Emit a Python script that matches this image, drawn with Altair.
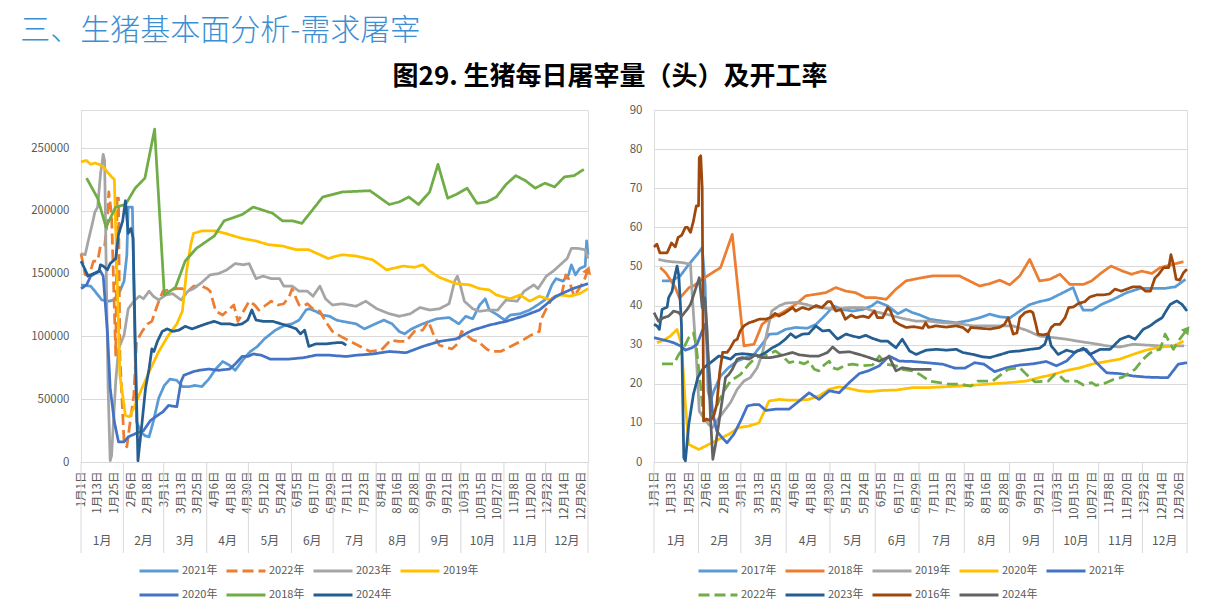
import altair as alt
import pandas as pd

FONT = "Noto Sans CJK SC"
GRAY_TXT = "#595959"
GRID = "#D9D9D9"

# ---------------- axis text ----------------
tick_labels = ["1月1日", "1月13日", "1月25日", "2月6日", "2月18日", "3月1日", "3月13日", "3月25日",
               "4月6日", "4月18日", "4月30日", "5月12日", "5月24日", "6月5日", "6月17日", "6月29日",
               "7月11日", "7月23日", "8月4日", "8月16日", "8月28日", "9月9日", "9月21日", "10月3日",
               "10月15日", "10月27日", "11月8日", "11月20日", "12月2日", "12月14日", "12月26日"]
tick_days = [12 * i for i in range(len(tick_labels))]
month_names = ["1月", "2月", "3月", "4月", "5月", "6月", "7月", "8月", "9月", "10月", "11月", "12月"]
month_bounds = [0, 30.5, 59.5, 90.5, 120.5, 151.5, 181.5, 212.5, 243.5, 273.5, 304.5, 334.5, 365]

# ---------------- left panel: daily slaughter (head), (day-of-year, value) ----------------
L2021 = [(0,141000),(7,140000),(10,136000),(15,129000),(20,128000),(24,129000),(26,133000),(28,136000),(31,144000),
         (33,165000),(34,203000),(37,203000),(39,85000),(40,32000),(43,24000),(46,21000),(49,20000),(52,32000),
         (56,51000),(60,61000),(64,66000),(69,65000),(73,60000),(78,60000),(82,61000),(87,60000),(92,66000),
         (97,74000),(102,80000),(107,77000),(111,73000),(117,82000),(122,88000),(127,92000),(132,98000),
         (140,105000),(147,109000),(152,110000),(157,113000),(162,121000),(164,122000),(169,120000),(174,117000),
         (179,116000),(184,113000),(188,112000),(198,110000),(204,106000),(210,109000),(218,113000),(224,110000),
         (229,104000),(233,102000),(238,106000),(246,110000),(256,114000),(265,115000),(272,110000),(277,116000),
         (282,114000),(287,125000),(291,130000),(294,121000),(300,117000),(305,113000),(309,117000),(316,118000),
         (323,121000),(330,126000),(335,130000),(339,141000),(342,146000),(347,144000),(351,149000),(353,157000),
         (356,149000),(359,154000),(363,156000),(364,176000),(365,165000)]
L2022 = [(0,166000),(3,149000),(6,149000),(9,160000),(12,160000),(14,172000),(17,172000),(19,192000),(20,215000),
         (22,197000),(25,85000),(26,210000),(27,210000),(28,85000),(31,16000),(33,12000),(36,37000),(38,53000),
         (40,96000),(44,104000),(48,110000),(51,112000),(55,125000),(59,136000),(63,137000),(69,138000),
         (73,138000),(77,136000),(81,140000),(87,140000),(91,138000),(93,136000),(97,120000),(102,117000),
         (107,122000),(110,125000),(113,112000),(117,120000),(121,128000),(125,125000),(128,121000),(132,124000),
         (137,128000),(142,125000),(146,126000),(150,132000),(152,138000),(155,130000),(157,125000),(160,124000),
         (163,126000),(167,122000),(172,120000),(176,112000),(181,104000),(184,102000),(187,100000),(201,92000),
         (208,88000),(216,89000),(223,97000),(229,96000),(234,96000),(240,104000),(246,105000),(250,112000),
         (254,101000),(258,93000),(267,90000),(271,94000),(274,104000),(282,97000),(286,96000),(292,90000),
         (295,88000),(302,88000),(306,90000),(311,93000),(318,97000),(324,101000),(330,104000),(331,113000),
         (335,122000),(339,130000),(343,133000),(346,133000),(349,149000),(351,146000),(355,132000),(358,137000),
         (362,144000),(365,153000)]
L2023 = [(0,166000),(3,165000),(5,175000),(8,189000),(10,199000),(12,203000),(14,229000),(16,245000),(17,240000),
         (18,165000),(19.5,59000),(21,1000),(22,5000),(25,64000),(27,90000),(31,101000),(34,122000),(38,128000),
         (42,132000),(45,130000),(49,136000),(52,132000),(56,129000),(61,133000),(66,134000),(72,129000),
         (77,136000),(81,138000),(87,143000),(93,149000),(99,150000),(105,153000),(111,158000),(117,157000),
         (121,158000),(126,146000),(131,148000),(137,146000),(143,146000),(146,140000),(152,140000),(157,136000),
         (163,136000),(167,132000),(172,140000),(176,130000),(181,125000),(188,126000),(198,124000),(205,128000),
         (213,122000),(222,118000),(229,116000),(237,118000),(244,123000),(251,121000),(258,122000),(265,126000),
         (269,144000),(271,148000),(273,141000),(276,128000),(282,122000),(287,120000),(294,121000),(300,121000),
         (306,129000),(314,128000),(319,136000),(326,141000),(329,138000),(335,148000),(340,152000),(345,157000),
         (350,162000),(353,170000),(358,170000),(363,169000),(365,162000)]
L2019 = [(0,239000),(4,240000),(7,237000),(10,238000),(13,237000),(16,235000),(19,231000),(22,227000),(24,225000),
         (26,146000),(28,69000),(32,37000),(35,36000),(38,43000),(44,59000),(50,74000),(56,88000),(63,101000),
         (69,110000),(73,120000),(76,152000),(79,173000),(81,182000),(87,184000),(97,184000),(104,182000),
         (116,178000),(126,176000),(135,173000),(145,172000),(155,169000),(164,169000),(172,165000),(178,162000),
         (184,164000),(188,165000),(198,164000),(210,161000),(220,153000),(232,156000),(240,155000),(246,157000),
         (251,152000),(258,147000),(270,142000),(280,141000),(287,138000),(294,137000),(299,133000),(309,130000),
         (316,133000),(323,128000),(330,132000),(338,129000),(345,133000),(352,132000),(359,134000),(365,138000)]
L2020 = [(0,138000),(4,141000),(7,148000),(10,150000),(14,152000),(16,148000),(19,104000),(21,59000),(24,32000),
         (27,16000),(31,16000),(34,20000),(40,23000),(45,25000),(50,33000),(55,37000),(59,40000),(63,45000),
         (69,44000),(72,64000),(74,69000),(81,72000),(85,73000),(92,74000),(99,73000),(107,74000),(111,78000),
         (116,84000),(120,84000),(124,86000),(130,85000),(136,82000),(143,82000),(150,82000),(160,83000),
         (169,85000),(179,85000),(191,84000),(198,85000),(210,86000),(222,88000),(234,87000),(246,92000),
         (258,96000),(270,98000),(282,105000),(294,109000),(306,112000),(318,116000),(330,121000),(342,132000),
         (354,138000),(365,142000)]
L2018 = [(4,226000),(12,210000),(18,187000),(25,203000),(32,205000),(39,218000),(46,226000),(53,265000),(60,133000),
         (68,139000),(75,160000),(83,170000),(96,180000),(103,192000),(116,197000),(124,203000),(138,198000),
         (145,192000),(152,192000),(159,190000),(174,211000),(188,215000),(208,216000),(222,205000),(229,207000),
         (236,211000),(243,205000),(251,215000),(257,237000),(264,210000),(270,213000),(278,218000),(285,206000),
         (292,207000),(299,211000),(306,221000),(313,228000),(320,224000),(327,218000),(334,222000),(341,219000),
         (348,227000),(355,228000),(362,233000)]
L2024 = [(0,160000),(3,153000),(5,148000),(9,150000),(13,152000),(14,157000),(16,156000),(19,153000),(21,158000),
         (24,161000),(25,162000),(27,181000),(30,192000),(32,208000),(34,182000),(36,186000),(37.5,178000),
         (39,98000),(41,1000),(44,32000),(46.5,59000),(49,74000),(51,90000),(52.5,88000),(55,96000),(58.5,104000),
         (62,106000),(66,104000),(70.5,105000),(75,108000),(80,106000),(85,108000),(90,110000),(96,112000),
         (101,110000),(107,110000),(111,109000),(116,110000),(120,113000),(123,121000),(126,113000),(131,112000),
         (138,112000),(144,110000),(150,108000),(155,106000),(158,102000),(161,105000),(164,92000),(169,94000),
         (176,94000),(184,95000),(188,95000),(191,93000)]

left_names = ["2021年", "2022年", "2023年", "2019年", "2020年", "2018年", "2024年"]
left_data = [L2021, L2022, L2023, L2019, L2020, L2018, L2024]
left_colors = ["#5B9BD5", "#ED7D31", "#A5A5A5", "#FFC000", "#4472C4", "#70AD47", "#255E91"]
left_dash = [[1, 0], [11, 5], [1, 0], [1, 0], [1, 0], [1, 0], [1, 0]]
left_yticks = [0, 50000, 100000, 150000, 200000, 250000]

# ---------------- right panel: operating rate (%), (day-of-year, value) ----------------
R2017 = [(5.5,46.3),(12,46.3),(18,47.6),(24,50.6),(29.5,53),(33,54.8),(35,45.4),(37,18.2),(38.7,15.6),(41,18.2),
         (45.6,22),(51,24.1),(57,25.8),(63,26.7),(68.5,27.5),(74,30.1),(79,32.7),(84.5,32.8),(90,33.9),(97,34.4),
         (105,34.2),(111,35.2),(118,37.8),(123,39.9),(129,39),(136,38.6),(143,39),(149,39.9),(153,41),(160,39.9),
         (167,37.9),(172.6,39),(177,38.2),(182,37.6),(189,36.5),(198,36),(207,35.6),(216,36.2),(223,36.9),
         (230,37.8),(237,37.1),(244,36.9),(250.5,38.6),(257,40.2),(264,41),(271,41.6),(278,42.9),(287,44.6),
         (290.5,41.2),(294,38.8),(300,38.8),(306.5,40.3),(314.6,41.6),(323.7,43.3),(333,44.4),(342,44.4),
         (350,44.4),(357,44.8),(364,46.7)]
R2018 = [(4.3,49.7),(8,48.4),(11,46.7),(14.6,44.6),(17.4,41.9),(20,42.9),(24,44.6),(27,45),(33,46.7),(40,48.4),
         (45.6,49.7),(53.6,58.2),(61.6,29.7),(68.5,30.1),(74,35.2),(80,36.9),(88,38.2),(97,40.3),(104,42.5),
         (111,42.9),(117.7,43.3),(124.5,44.6),(131.4,43.7),(138,43.3),(145,42),(152,42),(159,41.6),(165.7,44.2),
         (172.6,46.3),(181.8,47),(191,47.6),(200,47.6),(209,47.6),(216,46.3),(223,45),(230,45.6),(236.7,46.5),
         (243.6,45.3),(250.5,47.6),(257.3,51.8),(264,46.3),(271,46.7),(278,48),(284.8,45.4),(294,45.4),
         (299.7,46.3),(306.5,48.4),(313,50.1),(321,48.8),(327,48),(334,48.8),(341,48.2),(346.6,49.7),
         (353.5,50.4),(362.6,51.2)]
R2019 = [(3,51.8),(7.8,51.4),(12.4,51.2),(19,51),(25,50.6),(26,43.7),(29,26.7),(31,13),(34,11.3),(37.5,9.6),
         (40,8.8),(43,10.5),(48,13),(52.4,15.2),(57,18.6),(61.6,20.7),(66,21.6),(70.7,24.1),(74,27.5),(77.6,33.5),
         (80.6,38.6),(85.6,39.9),(90,40.6),(97,40.8),(104,40.3),(110.8,39.6),(117.7,39.3),(124.5,39),(133.7,39.5),
         (142.9,39.5),(152,38.4),(161,37.6),(170.4,36.7),(179.5,36),(188.6,36),(197.8,35.6),(209,35.4),(218,34.8),
         (227.5,34.8),(236.6,34.8),(245.7,34.8),(255,33.7),(264,32.2),(273.5,31.8),(282.5,31.4),(291.6,30.8),
         (300.8,30.3),(310,29.7),(319,29.4),(328,30.1),(337,29.9),(346,29.7),(355,29.7),(363,29.7)]
R2020 = [(2,30.5),(6.6,31.1),(11.2,32.2),(15.8,33.9),(18.8,30.1),(21.5,14.7),(23.8,4.5),(30.7,3.2),(37.5,4.5),
         (44.4,5.8),(51.3,7.1),(58,8.8),(65,9.2),(71.9,10),(78.8,15.6),(85.6,16),(92.5,15.8),(99,15.8),(106,16),
         (113,16.9),(120,18.6),(126.8,19.2),(133.7,18.8),(140.6,18.2),(147.4,18),(156.6,18.3),(165.7,18.4),
         (177,19),(186.4,19),(197.8,19.2),(209,19.4),(220.7,19.7),(232,20),(243.6,20.3),(255,20.7),(264,21.6),
         (273.5,22.4),(282.5,23.4),(291.7,24.1),(300.8,25.1),(310,25.7),(319,26.3),(328,27.5),(337,28.6),
         (346.6,29.4),(355.7,29.6),(362.6,30.9)]
R2021 = [(0,31.8),(7.8,31.1),(13.5,30.5),(18,29.7),(21.5,28.6),(26,29.2),(29.5,30.1),(33,33.5),(35,35.2),
         (36.4,30.1),(40,13),(43,7.9),(46.7,6.2),(50,4.9),(54.7,7.1),(59.3,10.5),(63.9,14.3),(68.5,14.7),
         (71.9,14.7),(76.5,13.2),(83.3,13.5),(92.5,13.5),(99.4,15.6),(106.2,17.7),(113,16),(120,18.2),
         (126.8,17.7),(133.7,20.3),(140.6,22.6),(147.4,23.4),(154.3,24.6),(161,27.1),(168,25.8),(177,25.7),
         (186.4,25.4),(197.8,25),(206,24),(212.9,24),(219.6,25.4),(226,25),(233.3,23.1),(241.3,24.1),(250.5,24.8),
         (259.6,25.1),(268.6,25.7),(275.6,24.6),(282.5,25.8),(289.4,28.4),(296,28.8),(303,25.4),(310,22.8),
         (319,22.6),(328,22),(337,21.7),(346.6,21.6),(352,21.6),(359,25),(365,25.4)]
R2022 = [(5.5,25.1),(13.5,25.1),(17,27.5),(20.4,29.2),(23.8,31.8),(27,33),(28.8,30),(31.8,19.9),(34,10.5),
         (37.5,10.5),(41,12.2),(44.4,15.6),(48,18.2),(52.4,20.7),(59.3,22.4),(65,25),(69.6,26.7),(74,27.1),
         (78.8,27.5),(83,28.4),(88,27.1),(92.5,25.4),(97,25.8),(102.8,25.1),(106.2,25.8),(109.7,23.7),(113,23.3),
         (116.5,24.8),(120,25.8),(122.3,24.1),(125.7,23.7),(131.4,24.8),(136,25),(142.9,24.6),(149.7,24.8),
         (154.3,27.1),(159,25),(165.7,24.6),(170,23.7),(177,23.3),(182,22.4),(188.6,20.7),(195.5,20.3),(202,19.9),
         (210,19.9),(217,19.4),(221.8,20.7),(232,20.7),(237.9,22.4),(242.5,23.7),(250.5,24.1),(255,22.4),
         (260.8,20.5),(270,20.7),(274.5,22.4),(278,22),(281.5,20.7),(289.4,20.7),(294,19.7),(299.7,20.3),
         (302.7,19.6),(310,20.3),(314.6,21.1),(321,21.7),(329.4,23.7),(335,26.3),(338.5,27.5),(342,28.4),
         (346.6,28.8),(350,32.7),(355.7,28.8),(359,30.9),(365,33.9)]
R2023 = [(0,35.2),(2,34.8),(3.7,33.9),(5.5,39),(9,39.6),(10,42),(12.4,43.7),(14,47.1),(15.8,50.1),(17,47.6),
         (18.8,35.2),(20.4,1.1),(21.5,0.3),(23.8,9.6),(27,17.3),(30,21.6),(34,24.1),(38.7,25.4),(44.4,27.1),
         (49,26.7),(52.4,26.3),(55.9,27.5),(60.4,27.7),(66,27.5),(71.9,27.1),(76.5,28),(81,29.2),(85.6,30.1),
         (90,31.4),(93.6,32.8),(97,31.8),(101.6,32.7),(106,32.8),(110.8,34.8),(115.4,33.5),(120,33.7),
         (125.7,31.4),(131.4,32.7),(136,32.2),(140.6,31.8),(145,32.4),(149.7,31.6),(155.4,30.9),(160,30.9),
         (165.7,29.2),(170,31.4),(175,28.4),(179.5,27.5),(186.4,28.6),(193.3,28.8),(200,28.6),(207,28.8),
         (211.5,28),(218.5,27.5),(225,26.9),(229.9,26.7),(236.6,27.4),(243.6,28.2),(250.5,28.4),(257.3,28.8),
         (264,29.1),(267.6,30.1),(270,32.7),(272,29.7),(276.8,27.5),(282.5,28.6),(288.2,28),(294,29.1),
         (298.5,27.5),(305.5,28.8),(312.3,28.8),(319.3,31.4),(325,32.2),(329.5,31.4),(335,33.9),(339.7,34.8),
         (344,36),(348,36.9),(350,38.2),(353.5,40.3),(358,41.2),(361.6,40.3),(365,38.6)]
R2016 = [(0,55),(2,55.7),(4,53.5),(9,53.5),(12,56),(14.6,55),(16.5,57.4),(19,58),(21.5,60),(23,60),(25,58.7),
         (27,61.6),(29,65.5),(30.5,65.5),(31,77.8),(32,78.3),(33,70),(34,10.5),(36,11),(38.7,10.5),(41,12),
         (43,14.7),(45,23),(47,28),(50,28),(52,29),(55,31),(57,31.4),(59,33.5),(61.6,34.8),(65,35.6),(68.5,36),
         (72,36.5),(76.5,36.5),(80,37),(83,38),(85.6,37.3),(90,38.2),(95,39.5),(97,38.6),(101.6,39.5),(106,39),
         (111,40),(115,39.5),(119,41),(121,41),(124.5,38.6),(128,39),(131,36.5),(135,37.6),(138,36.9),(143,37.3),
         (147,36.9),(151,38.6),(153,36.9),(156.6,36.9),(160,39.5),(162,38.6),(164.6,36),(168,35.2),(172.6,34.4),
         (178,34.6),(184,34.2),(186,35.6),(188,34.4),(193,34.8),(200,34.5),(207,34.8),(211.5,34.4),(215,33.3),
         (217,34.4),(223,34.2),(230,34),(236.6,34.4),(240,35.2),(242.6,36.9),(244,35.2),(246,32.7),(248.5,33),
         (250.5,36.9),(254,38.2),(257.5,38.6),(259.5,38.2),(261.5,35.2),(263,32.7),(266.5,32.5),(270,32.8),
         (272,34.4),(274.5,35.2),(278,35.2),(281.5,36.9),(284,39.5),(287,39.6),(290.5,40.5),(295,41),
         (298.5,42.2),(303,42.7),(307.6,42.7),(312,43),(315.7,44.2),(320,43.7),(323.7,44.2),(328,44.8),(333,44.8),
         (336.5,43.7),(340,43.7),(343,47),(345.6,48),(349,49.7),(352.5,49.7),(354,53),(355.7,50.5),(357.6,46.7),
         (360,46.5),(362.6,48.4),(365,49.3)]
R2024 = [(0,38.2),(3,36),(6.6,36.9),(10,37.3),(13.5,38.6),(17,38.2),(19,37.3),(22.7,39),(25,40.3),(28,43.7),
         (31,47.1),(33,39.5),(34.8,42),(36.4,33.5),(38.7,11.3),(40.3,0.7),(42.6,5.4),(45.6,13),(49,21.6),
         (51.3,22.4),(53.6,23.7),(57,26.3),(60.4,26.7),(65,26.3),(69.6,27.4),(74,26.7),(80,26.7),(85.6,27.1),
         (90,27.5),(94.8,28),(99.4,27.4),(106.2,27.1),(113,27.1),(118.8,28),(122.3,29.4),(126.8,28),(133.7,28.2),
         (140.6,27.5),(147.4,26.7),(154.3,25.8),(161,26.9),(165.7,23.3),(170,24.1),(177,23.7),(184,23.7),
         (190,23.7)]

right_names = ["2017年", "2018年", "2019年", "2020年", "2021年", "2022年", "2023年", "2016年", "2024年"]
right_data = [R2017, R2018, R2019, R2020, R2021, R2022, R2023, R2016, R2024]
right_colors = ["#5B9BD5", "#ED7D31", "#A5A5A5", "#FFC000", "#4472C4", "#70AD47", "#255E91", "#9E480E", "#636363"]
right_dash = [[1, 0], [1, 0], [1, 0], [1, 0], [1, 0], [11, 5], [1, 0], [1, 0], [1, 0]]
right_yticks = [0, 10, 20, 30, 40, 50, 60, 70, 80, 90]


def long_df(names, data):
    rows = []
    for k, (n, pts) in enumerate(zip(names, data)):
        for d, v in pts:
            rows.append({"day": d, "value": v, "series": n, "k": k})
    return pd.DataFrame(rows)


months_df = pd.DataFrame({
    "day": [(month_bounds[i] + month_bounds[i + 1]) / 2 for i in range(12)],
    "name": month_names,
})
bounds_df = pd.DataFrame({"day": month_bounds})

label_js = "[" + ",".join("'%s'" % t for t in tick_labels) + "]"


def panel(names, data, colors, dashes, yticks, ydomain, yfmt, width, height,
          cols, legend_x, arrow_series, arrow_color, arrow_angle):
    df = long_df(names, data)
    xscale = alt.Scale(domain=[0, 365], nice=False, zero=False)
    yscale = alt.Scale(domain=ydomain, nice=False, zero=True)
    legend = alt.Legend(
        title=None, orient="none", legendX=legend_x, legendY=453, direction="horizontal",
        columns=cols, symbolType="M-3,0H3", symbolSize=169, symbolStrokeWidth=3,
        labelFontSize=11, labelColor=GRAY_TXT, labelFont=FONT, labelOffset=15,
        columnPadding=2, rowPadding=10, padding=0,
    )
    xaxis = alt.Axis(values=tick_days, labelExpr=label_js + "[round(datum.value/12)]",
                     labelAngle=270, labelAlign="right", labelBaseline="middle",
                     labelPadding=9, ticks=False, domain=True, domainColor=GRID, grid=False,
                     labelOverlap=False, labelFlush=False, labelBound=False, title=None,
                     labelFontSize=11.5, labelColor=GRAY_TXT, labelFont=FONT)
    yaxis = alt.Axis(values=yticks, format=yfmt, title=None, grid=True, gridColor=GRID,
                     domain=False, ticks=False, labelPadding=12, labelFontSize=11.5,
                     labelOverlap=False, labelColor=GRAY_TXT, labelFont=FONT)
    lines = alt.Chart(df).mark_line(strokeWidth=2.75, strokeJoin="round").encode(
        x=alt.X("day:Q", scale=xscale, axis=xaxis),
        y=alt.Y("value:Q", scale=yscale, axis=yaxis),
        color=alt.Color("series:N", scale=alt.Scale(domain=names, range=colors), legend=legend,
                        sort=names),
        strokeDash=alt.StrokeDash("series:N", scale=alt.Scale(domain=names, range=dashes), legend=None),
        order=alt.Order("day:Q"),
    )
    last = df[df["series"] == arrow_series].sort_values("day").tail(1)
    arrow = alt.Chart(last).mark_point(shape="triangle-right", filled=True, size=90,
                                        color=arrow_color, opacity=1, angle=arrow_angle).encode(
        x=alt.X("day:Q", scale=xscale, axis=None),
        y=alt.Y("value:Q", scale=yscale, axis=None),
    )
    seps = alt.Chart(bounds_df).mark_rule(color=GRID, strokeWidth=1).encode(
        x=alt.X("day:Q", scale=xscale, axis=None),
        y=alt.value(height), y2=alt.value(height + 91),
    )
    mlabels = alt.Chart(months_df).mark_text(fontSize=12, color=GRAY_TXT, font=FONT,
                                             baseline="middle").encode(
        x=alt.X("day:Q", scale=xscale, axis=None),
        y=alt.value(height + 79),
        text="name:N",
    )
    return alt.layer(lines, arrow, seps, mlabels).resolve_axis(
        x="independent", y="independent"
    ).properties(width=width, height=height)


H = 352
left = panel(left_names, left_data, left_colors, left_dash, left_yticks, [0, 280255], "d",
             507, H, 4, 70, "2022年", "#ED7D31", 290)
right = panel(right_names, right_data, right_colors, right_dash, right_yticks, [0, 90], "d",
              533, H, 5, 56, "2022年", "#70AD47", 307)

row = alt.hconcat(
    left, right, spacing=66, bounds="flush",
    title=alt.TitleParams(text="图29. 生猪每日屠宰量（头）及开工率", anchor="middle", fontSize=26,
                          fontWeight="bold", color="#000000", font=FONT, offset=14),
).resolve_scale(color="independent", strokeDash="independent", x="independent", y="independent")

chart = alt.vconcat(
    row,
    title=alt.TitleParams(text="三、生猪基本面分析-需求屠宰", anchor="start", fontSize=30,
                          fontWeight=300, color="#3D8FD3", font=FONT, dx=-10, offset=18),
).properties(
    padding={"left": 12, "top": 7, "right": 5, "bottom": 5}
).configure_view(stroke=None).configure(font=FONT)

chart.save("out.html", embed_options={"renderer": "svg", "actions": False})
